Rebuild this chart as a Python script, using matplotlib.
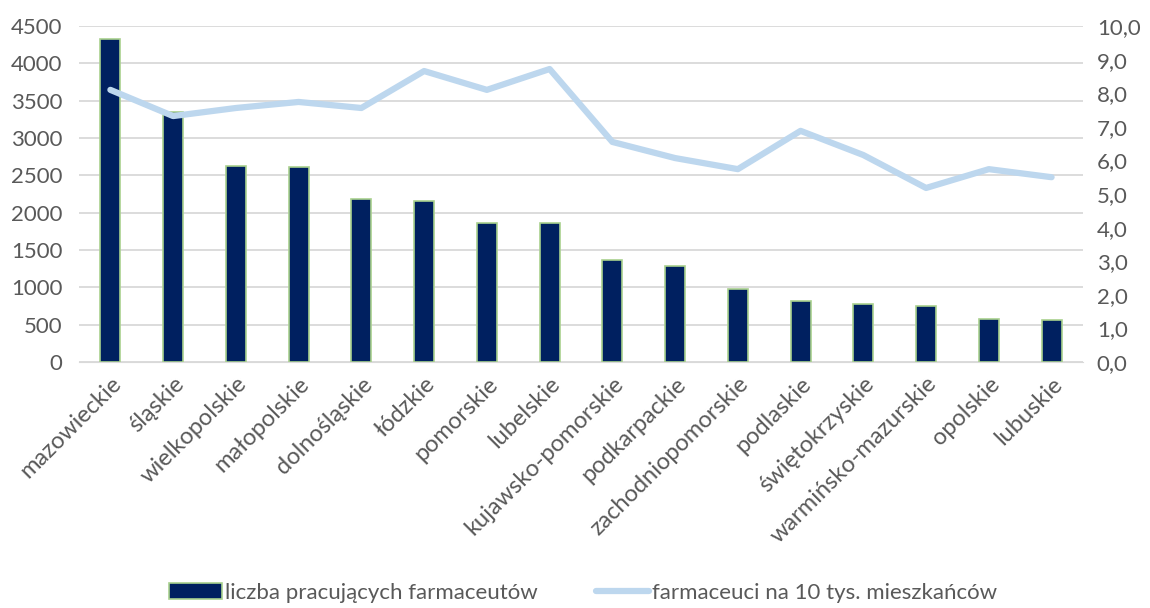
import numpy as np
from matplotlib import pyplot as plt

wojewodztwa = ['mazowieckie', 'śląskie', 'wielkopolskie', 'małopolskie', 'dolnośląskie',
               'łódzkie', 'pomorskie', 'lubelskie', 'kujawsko-pomorskie', 'podkarpackie',
               'zachodniopomorskie', 'podlaskie', 'świętokrzyskie', 'warmińsko-mazurskie',
               'opolskie', 'lubuskie']
liczba = [4326, 3348, 2625, 2612, 2183, 2156, 1862, 1862, 1366, 1286, 978, 817, 777, 750, 576, 562]
na_10_tys = [8.1, 7.32, 7.56, 7.74, 7.56, 8.66, 8.1, 8.72, 6.55, 6.07, 5.74, 6.88, 6.16, 5.18, 5.74, 5.5]

plt.rcParams['font.family'] = ['Lato', 'DejaVu Sans']
szary = '#595959'
fs = 16

fig = plt.figure(figsize=(11.5, 6.08), dpi=100)
ax = fig.add_axes([0.0687, 0.4046, 0.873, 0.5526])
x = np.arange(len(wojewodztwa))

bars = ax.bar(x, liczba, width=0.32, color='#002060', edgecolor='#a9d18e', linewidth=1.2,
              zorder=3, label='liczba pracujących farmaceutów')
ax.set_ylim(0, 4500)
ax.set_yticks(np.arange(0, 4501, 500))
ax.set_xlim(-0.5, len(wojewodztwa) - 0.5)
ax.grid(axis='y', color='#d9d9d9', linewidth=1.3, zorder=0)
ax.set_xticks(x)
ax.set_xticklabels(wojewodztwa, rotation=45, ha='right', rotation_mode='anchor')
ax.tick_params(axis='both', length=0, labelsize=fs, labelcolor=szary)
ax.tick_params(axis='x', pad=8, labelsize=17)
ax.tick_params(axis='y', pad=12)
for s in ax.spines.values():
    s.set_visible(False)
ax.spines['bottom'].set_visible(True)
ax.spines['bottom'].set_color('#d9d9d9')

ax2 = ax.twinx()
line, = ax2.plot(x, na_10_tys, color='#bdd7ee', linewidth=4.5, solid_capstyle='round',
                 label='farmaceuci na 10 tys. mieszkańców', zorder=4)
ax2.set_ylim(0, 10)
ax2.set_yticks(np.arange(0, 10.1, 1))
ax2.set_yticklabels([f'{v:.1f}'.replace('.', ',') for v in np.arange(0, 10.1, 1)])
ax2.tick_params(axis='y', length=0, labelsize=fs, labelcolor=szary, pad=10)
for s in ax2.spines.values():
    s.set_visible(False)

fig.legend([bars, line], ['liczba pracujących farmaceutów', 'farmaceuci na 10 tys. mieszkańców'],
           loc='center', bbox_to_anchor=(0.507, 0.025), ncol=2, frameon=False,
           fontsize=fs, labelcolor=szary, columnspacing=2.6, handlelength=2.4,
           handletextpad=0.15)

plt.savefig('out.png')
